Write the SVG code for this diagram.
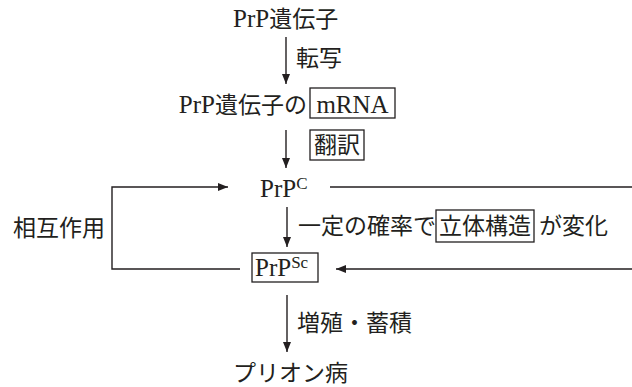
<svg xmlns="http://www.w3.org/2000/svg" width="632" height="387" viewBox="0 0 632 387">
<style>
  .t { font-family: "Liberation Serif", "Noto Sans CJK JP", serif; font-size: 23px; fill: #231f20; }
  .lat { font-size: 25px; }
  .sup { font-size: 17px; }
  .ln { fill: none; stroke: #231f20; stroke-width: 1.4; }
  .box { fill: none; stroke: #231f20; stroke-width: 1.3; }
</style>
<defs>
  <marker id="ah" viewBox="0 0 10 10" refX="10" refY="5" markerWidth="10" markerHeight="10" markerUnits="userSpaceOnUse" orient="auto">
    <path d="M0,1 L10,5 L0,9 Z" fill="#231f20"/>
  </marker>
</defs>
<rect width="632" height="387" fill="#ffffff"/>
<g id="connectors">
  <line class="ln" x1="286" y1="37" x2="286" y2="84" marker-end="url(#ah)"/>
  <line class="ln" x1="286" y1="130" x2="286" y2="168" marker-end="url(#ah)"/>
  <line class="ln" x1="287" y1="207" x2="287" y2="247" marker-end="url(#ah)"/>
  <line class="ln" x1="287" y1="295" x2="287" y2="352" marker-end="url(#ah)"/>
  <path class="ln" d="M240,269 H112 V187 H228" marker-end="url(#ah)"/>
  <path class="ln" d="M330,187 H634 V269 H336" marker-end="url(#ah)"/>
  <text class="t" x="296" y="66">転写</text>
  <g id="label-translation">
    <rect class="box" x="310" y="130" width="54" height="30"/>
    <text class="t" x="337" y="153" text-anchor="middle">翻訳</text>
  </g>
  <g id="label-conformation">
    <text class="t" x="298" y="234">一定の確率で</text>
    <rect class="box" x="436" y="210" width="98" height="32"/>
    <text class="t" x="485" y="234" text-anchor="middle">立体構造</text>
    <text class="t" x="539" y="234">が変化</text>
  </g>
  <text class="t" x="13" y="236">相互作用</text>
  <text class="t" x="297" y="331">増殖・蓄積</text>
</g>
<g id="node-gene">
  <text class="t" x="233" y="27"><tspan class="lat">PrP</tspan>遺伝子</text>
</g>
<g id="node-mrna">
  <text class="t" x="307" y="113" text-anchor="end"><tspan class="lat">PrP</tspan>遺伝子の</text>
  <rect class="box" x="310" y="88" width="85" height="30"/>
  <text class="t lat" x="352.5" y="113" text-anchor="middle">mRNA</text>
</g>
<g id="node-prpc">
  <text class="t lat" x="260" y="197">PrP<tspan class="sup" dy="-8">C</tspan></text>
</g>
<g id="node-prpsc">
  <rect class="box" x="252" y="253" width="66" height="29"/>
  <text class="t lat" x="255" y="276">PrP<tspan class="sup" dy="-8">Sc</tspan></text>
</g>
<g id="node-disease">
  <text class="t" x="233" y="381">プリオン病</text>
</g>
</svg>
